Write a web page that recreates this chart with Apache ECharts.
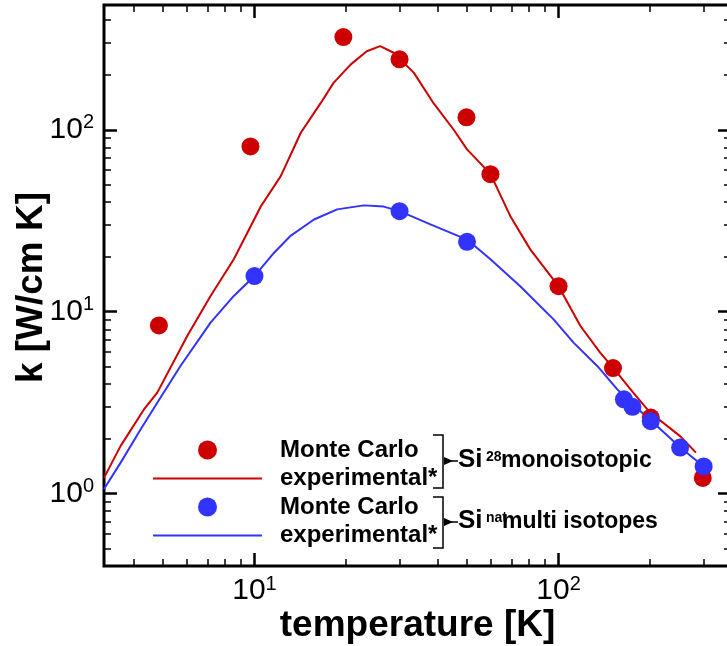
<!DOCTYPE html>
<html>
<head>
<meta charset="utf-8">
<script src="https://cdn.jsdelivr.net/npm/echarts@6/dist/echarts.min.js"></script>
<style>
html, body { margin: 0; padding: 0; background: #fff; }
#chart { width: 727px; height: 646px; }
</style>
</head>
<body>
<div id="chart"></div>
<script>
// Monte Carlo points
var si28McT = [4.85, 9.7, 19.6, 30, 49.8, 59.7, 100, 151, 201, 298];
var si28McK = [8.4, 81, 323, 244, 117, 57, 13.8, 4.9, 2.62, 1.22];
var siNatMcT = [10, 30, 50, 164, 175, 201, 251, 300];
var siNatMcK = [15.7, 35.7, 24.2, 3.3, 3.0, 2.5, 1.79, 1.41];

// experimental curves
var si28ExpT = [3.2, 3.63, 4.33, 4.79, 6.01, 7.17, 8.55, 10.5, 12.2, 14.2, 16.5, 18.2, 20.7, 23.4, 25.9, 28.7, 33.4, 38.8, 45.2, 50, 59.7, 69.4, 80.7, 94, 100, 118, 137, 151, 176, 200, 251, 283];
var si28ExpK = [1.22, 1.83, 2.9, 3.59, 7.35, 12.2, 19.4, 38, 55.6, 96.3, 140, 181, 228, 270, 288, 265, 206, 140, 100, 78, 57.2, 33.5, 22, 15.8, 13.8, 8.34, 5.96, 4.92, 3.59, 2.79, 2.07, 1.68];
var siNatExpT = [3.2, 3.63, 4.22, 4.79, 5.71, 7.17, 8.55, 10, 11.6, 13.1, 15.7, 18.7, 22.9, 26.6, 30, 37.9, 50, 59.7, 74.8, 96.3, 112, 134, 156, 175, 200, 251, 300];
var siNatExpK = [1.06, 1.48, 2.25, 3.16, 5.03, 8.7, 12.2, 15.7, 21.1, 26, 32.1, 36.5, 38.4, 37.8, 35.7, 30.2, 24.9, 19.4, 13.8, 9.07, 6.76, 5.03, 3.74, 3.1, 2.55, 1.8, 1.41];

// ticks
var xMajor = [10, 100];
var xMinor = [4, 5, 6, 7, 8, 9, 20, 30, 40, 50, 60, 70, 80, 90, 200, 300];
var yMajor = [1, 10, 100];
var yMinor = [0.5, 0.6, 0.7, 0.8, 0.9, 2, 3, 4, 5, 6, 7, 8, 9, 20, 30, 40, 50, 60, 70, 80, 90, 200, 300, 400];

var X_MIN = 3.2, X_MAX = 369, Y_MIN = 0.4, Y_MAX = 485;

var RED = '#cc0000', BLUE = '#3333ff';
var FONT = 'Liberation Sans';
var LINE_ICON = 'path://M0,0L109,0L109,2L0,2Z';

function pairs(xs, ys) {
    return xs.map(function (x, i) { return [x, ys[i]]; });
}

function powLabel(v) {
    return '{b|10}{s|' + Math.round(Math.log10(v)) + '}';
}

var labelRich = {
    b: { fontFamily: FONT, fontSize: 30, color: '#000' },
    s: { fontFamily: FONT, fontSize: 20, color: '#000', padding: [0, 0, 14, 0] }
};

function axis(dim, pos, ticks, len, w, labels, extra) {
    var a = {
        type: 'log',
        logBase: 10,
        position: pos,
        min: dim === 'x' ? X_MIN : Y_MIN,
        max: dim === 'x' ? X_MAX : Y_MAX,
        axisLine: { show: false, onZero: false },
        splitLine: { show: false },
        axisTick: { show: true, inside: true, length: len, customValues: ticks, lineStyle: { color: '#000', width: w } },
        axisLabel: labels ? {
            customValues: labels,
            formatter: powLabel,
            rich: labelRich,
            margin: dim === 'x' ? 8 : 10
        } : { show: false }
    };
    if (extra) Object.assign(a, extra);
    return a;
}

var chart = echarts.init(document.getElementById('chart'));

var option = {
    animation: false,
    backgroundColor: '#fff',
    grid: {
        left: 104, top: 5, width: 627, height: 561,
        outerBoundsMode: 'none',
        containLabel: false,
        show: true, borderColor: '#000', borderWidth: 3
    },
    xAxis: [
        axis('x', 'bottom', xMajor, 13, 2.5, xMajor, {
            name: 'temperature [K]', nameLocation: 'middle', nameGap: 41, nameMoveOverlap: false,
            nameTextStyle: { fontFamily: FONT, fontWeight: 'bold', fontSize: 37, color: '#000' }
        }),
        axis('x', 'bottom', xMinor, 7, 1.5),
        axis('x', 'top', xMajor, 13, 2.5),
        axis('x', 'top', xMinor, 7, 1.5)
    ],
    yAxis: [
        axis('y', 'left', yMajor, 13, 2.5, yMajor, {
            name: 'k [W/cm K]', nameLocation: 'middle', nameGap: 54, nameMoveOverlap: false,
            nameTextStyle: { fontFamily: FONT, fontWeight: 'bold', fontSize: 37, color: '#000', padding: [0, 4, 0, 0] }
        }),
        axis('y', 'left', yMinor, 7, 1.5),
        axis('y', 'right', yMajor, 13, 2.5),
        axis('y', 'right', yMinor, 7, 1.5)
    ],
    legend: {
        orient: 'vertical',
        left: 148, top: 433,
        itemWidth: 109, itemHeight: 19, itemGap: 4.5,
        selectedMode: false,
        data: [
            { name: 'Monte Carlo', icon: 'circle' },
            { name: 'experimental*', icon: LINE_ICON },
            { name: 'Monte Carlo ', icon: 'circle' },
            { name: 'experimental* ', icon: LINE_ICON }
        ],
        formatter: function (n) { return n.trim(); },
        textStyle: {
            fontFamily: FONT, fontWeight: 'bold', fontSize: 24, color: '#000',
            padding: [0, 0, 0, 13]
        }
    },
    graphic: [
        { type: 'polyline', shape: { points: [[433, 435], [443, 435], [443, 488], [433, 488]] }, style: { stroke: '#000', lineWidth: 1.5, fill: null } },
        { type: 'polygon', shape: { points: [[444, 457], [453, 461], [444, 465]] }, style: { fill: '#000' } },
        { type: 'line', shape: { x1: 444, y1: 461, x2: 458, y2: 461 }, style: { stroke: '#000', lineWidth: 1.5 } },
        { type: 'text', left: 458, top: 447, style: { text: 'Si', font: 'bold 26px ' + FONT, fill: '#000' } },
        { type: 'text', left: 486, top: 450, style: { text: '28', font: 'bold 14px ' + FONT, fill: '#000' } },
        { type: 'text', left: 501, top: 449, style: { text: 'monoisotopic', font: 'bold 23px ' + FONT, fill: '#000' } },

        { type: 'polyline', shape: { points: [[433, 497], [443, 497], [443, 548], [433, 548]] }, style: { stroke: '#000', lineWidth: 1.5, fill: null } },
        { type: 'polygon', shape: { points: [[444, 518], [453, 522], [444, 526]] }, style: { fill: '#000' } },
        { type: 'line', shape: { x1: 444, y1: 522, x2: 458, y2: 522 }, style: { stroke: '#000', lineWidth: 1.5 } },
        { type: 'text', left: 458, top: 508, style: { text: 'Si', font: 'bold 26px ' + FONT, fill: '#000' } },
        { type: 'text', left: 486, top: 511, style: { text: 'nat', font: 'bold 14px ' + FONT, fill: '#000' } },
        { type: 'text', left: 502, top: 510, style: { text: 'multi isotopes', font: 'bold 23px ' + FONT, fill: '#000' } }
    ],
    series: [
        {
            name: 'experimental*', type: 'line', symbol: 'none',
            data: pairs(si28ExpT, si28ExpK),
            lineStyle: { color: RED, width: 2 }, itemStyle: { color: RED }, z: 2
        },
        {
            name: 'experimental* ', type: 'line', symbol: 'none',
            data: pairs(siNatExpT, siNatExpK),
            lineStyle: { color: BLUE, width: 2 }, itemStyle: { color: BLUE }, z: 2
        },
        {
            name: 'Monte Carlo', type: 'scatter', symbol: 'circle', symbolSize: 18,
            data: pairs(si28McT, si28McK),
            itemStyle: { color: RED, opacity: 1 }, z: 3
        },
        {
            name: 'Monte Carlo ', type: 'scatter', symbol: 'circle', symbolSize: 18,
            data: pairs(siNatMcT, siNatMcK),
            itemStyle: { color: BLUE, opacity: 1 }, z: 4
        }
    ]
};

chart.setOption(option);
</script>
</body>
</html>
